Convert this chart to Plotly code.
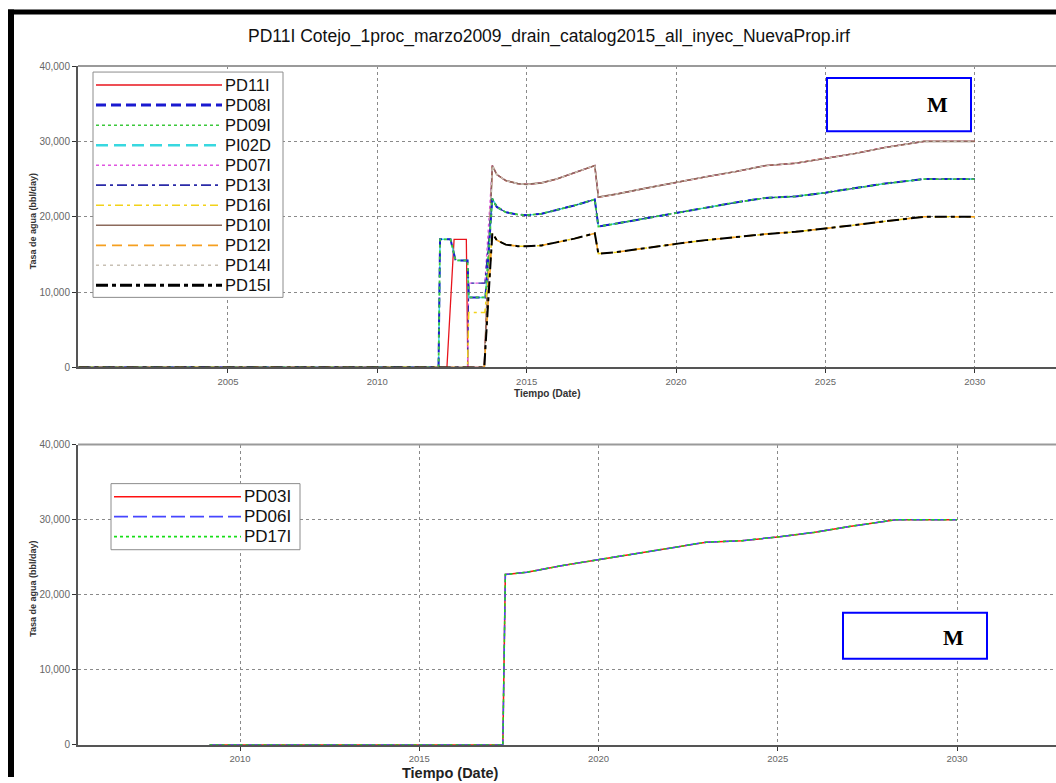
import plotly.graph_objects as go

W, H = 1056, 783

# ---------------- data: top panel ----------------
top_names = ["PD11I", "PD08I", "PD09I", "PI02D", "PD07I", "PD13I", "PD16I",
             "PD10I", "PD12I", "PD14I", "PD15I"]
top_colors = ["#e8141c", "#1a1ad0", "#3cc83c", "#38d8e0", "#e055e0", "#2a2aa8",
              "#f2d21a", "#8c6a5c", "#f5a020", "#c8c0b4", "#000000"]
top_dashes = ["solid", "10px,5px", "3px,3px", "12px,6px", "3px,3px",
              "10px,4px,3px,4px", "8px,4px,3px,4px", "solid", "10px,6px",
              "3px,4px", "12px,4px,4px,4px"]
top_leg_widths = [1.5, 3, 1.5, 2.5, 1.5, 1.8, 1.5, 1.5, 1.8, 1.5, 3]
top_line_widths = [1.3, 2, 1.8, 1.5, 1.3, 1.2, 1.5, 1.6, 1.5, 1.6, 2]
top_group = ["A", "B", "B", "B", "A", "B", "C", "A", "C", "A", "C"]
top_early = ["red", "ramp", "ramp", "ramp", "step_mid", "step_mid", "step_low",
             "zero", "zero", "zero", "zero"]
draw_order = [0, 4, 7, 9, 3, 5, 1, 2, 6, 8, 10]

# early (pre-2013.6) behaviour, decimal years / bbl/day
red_x = [2000.0, 2012.33, 2012.57, 2012.98, 2013.03, 2013.58]
red_y = [0, 0, 17000, 17000, 0, 0]
ramp_x = [2000.0, 2012.05, 2012.10, 2012.45, 2012.62, 2013.02, 2013.06, 2013.62]
ramp_y = [0, 0, 17000, 17000, 14200, 14200, 9300, 9300]
step_mid_x = [2000.0, 2013.02, 2013.06, 2013.60]
step_mid_y = [0, 0, 11200, 11200]
step_low_x = [2000.0, 2013.02, 2013.06, 2013.60]
step_low_y = [0, 0, 7300, 7300]
zero_x = [2000.0, 2013.58]
zero_y = [0, 0]

# later profiles for the three groups of wells
prof_t = [2013.85, 2014.0, 2014.3, 2014.7, 2015.0, 2015.5, 2016.0, 2016.6,
          2017.28, 2017.40, 2018.0, 2019.0, 2020.0, 2021.0, 2022.0, 2023.0,
          2024.0, 2025.0, 2026.0, 2027.0, 2028.3, 2030.0]
grp_a = [26800, 25600, 24800, 24400, 24300, 24500, 25000, 25800, 26800, 22600,
         23000, 23800, 24500, 25300, 26000, 26800, 27100, 27700, 28400, 29200,
         30000, 30000]
grp_b = [22400, 21300, 20600, 20300, 20200, 20400, 20900, 21500, 22300, 18700,
         19100, 19800, 20500, 21200, 21900, 22500, 22700, 23200, 23800, 24400,
         25000, 25000]
grp_c = [17800, 16900, 16300, 16100, 16100, 16200, 16600, 17100, 17800, 15100,
         15300, 15900, 16400, 16900, 17300, 17700, 18000, 18400, 18900, 19400,
         20000, 20000]

# ---------------- data: bottom panel ----------------
bot_names = ["PD03I", "PD06I", "PD17I"]
bot_colors = ["#ff1010", "#4646ff", "#18dd18"]
bot_dashes = ["solid", "14px,5px", "3px,3px"]
bot_widths = [1.5, 1.8, 1.8]
bot_t = [2009.15, 2017.33, 2017.40, 2018.0, 2019.0, 2020.0, 2021.0, 2022.0,
         2023.0, 2024.0, 2025.0, 2026.0, 2027.0, 2028.3, 2030.0]
bot_rate = [0, 0, 22700, 23000, 23900, 24700, 25500, 26300, 27000, 27200,
            27700, 28300, 29100, 30000, 30000]

x_ticks = [2005, 2010, 2015, 2020, 2025, 2030]
y_ticks = [0, 10000, 20000, 30000, 40000]

early_map = {"red": (red_x, red_y), "ramp": (ramp_x, ramp_y),
             "step_mid": (step_mid_x, step_mid_y),
             "step_low": (step_low_x, step_low_y), "zero": (zero_x, zero_y)}
group_map = {"A": grp_a, "B": grp_b, "C": grp_c}

# the photographed page maps figure y to picture y as ~0.9846*y + 5;
# positions below are given in picture pixels and converted back.
V_SCALE, V_OFF = 0.9846, 5.03


def px(x):
    return x / W


def py(y):
    return 1 - ((y - V_OFF) / V_SCALE) / H


fig = go.Figure()

for i in draw_order:
    name = top_names[i]
    ex, ey = early_map[top_early[i]]
    fig.add_trace(go.Scatter(
        x=ex + prof_t, y=ey + group_map[top_group[i]], mode="lines", name=name,
        line=dict(color=top_colors[i], dash=top_dashes[i], width=top_line_widths[i]),
        xaxis="x", yaxis="y", showlegend=False))

for i, name in enumerate(bot_names):
    fig.add_trace(go.Scatter(
        x=bot_t, y=bot_rate, mode="lines", name=name,
        line=dict(color=bot_colors[i], dash=bot_dashes[i], width=1.5),
        xaxis="x2", yaxis="y2", showlegend=False))

axis_common = dict(showline=True, linecolor="#555", linewidth=2, ticks="outside",
                   ticklen=4, tickcolor="#333", showgrid=True, gridcolor="#8a8a8a",
                   griddash="dot", gridwidth=1, zeroline=False,
                   tickfont=dict(family="Liberation Sans", size=9.5, color="#666"))

fig.update_layout(
    width=W, height=H, margin=dict(l=0, r=0, t=0, b=0), autosize=False,
    paper_bgcolor="white", plot_bgcolor="white", showlegend=False,
    xaxis=dict(domain=[px(78), 1.0], range=[1999.98, 2032.72], anchor="y",
               tickvals=x_ticks, ticktext=[str(v) for v in x_ticks], **axis_common),
    yaxis=dict(domain=[py(367), py(66)], range=[0, 40000], anchor="x",
               tickvals=y_ticks, tickformat=",", **axis_common),
    xaxis2=dict(domain=[px(78), 1.0], range=[2005.48, 2032.76], anchor="y2",
                tickvals=x_ticks, ticktext=[str(v) for v in x_ticks], **axis_common),
    yaxis2=dict(domain=[py(744), py(444)], range=[0, 40000], anchor="x2",
                tickvals=y_ticks, tickformat=",", **axis_common),
)
fig.update_yaxes(tickfont=dict(size=10))

shapes = []
annotations = []


def note(text, x, y, size, family="Liberation Sans", color="#111", xanchor="center",
         angle=0):
    annotations.append(dict(text=text, x=px(x), y=py(y), xref="paper", yref="paper",
                            showarrow=False, xanchor=xanchor, yanchor="middle",
                            textangle=angle,
                            font=dict(family=family, size=size, color=color)))


# outer black frame
shapes.append(dict(type="line", xref="paper", yref="paper", x0=px(8), x1=1.0,
                   y0=py(12), y1=py(12), line=dict(color="black", width=5)))
shapes.append(dict(type="line", xref="paper", yref="paper", x0=px(11), x1=px(11),
                   y0=py(9.5), y1=0, line=dict(color="black", width=6)))
# grey top borders of the plot areas
for ytop in (66, 444):
    shapes.append(dict(type="line", xref="paper", yref="paper", x0=px(78), x1=1.0,
                       y0=py(ytop), y1=py(ytop), line=dict(color="#9a9a9a", width=2)))

# title and axis titles
note("PD11I Cotejo_1proc_marzo2009_drain_catalog2015_all_inyec_NuevaProp.irf",
     549, 36, 17.5)
note("<b>Tiempo (Date)</b>", 547, 393, 10, color="#333")
note("<b>Tiempo (Date)</b>", 450, 772, 14.5, color="#222")
for yc in (221, 588):
    note("<b>Tasa de agua (bbl/day)</b>", 33, yc, 9, color="#333", angle=-90)

# M boxes
for (bx0, by0, bx1, by1, mx, my) in ((827, 78, 971, 131, 937, 104),
                                     (843, 612, 987, 658, 953, 637)):
    shapes.append(dict(type="rect", xref="paper", yref="paper", x0=px(bx0), x1=px(bx1),
                       y0=py(by1), y1=py(by0), line=dict(color="#0000ff", width=2),
                       fillcolor="white"))
    note("<b>M</b>", mx, my, 22, family="Liberation Serif", color="black")


def legend_box(names, colors, dashes, widths, box, row0, step, lx0, lx1, tx, fsize):
    shapes.append(dict(type="rect", xref="paper", yref="paper", x0=px(box[0]),
                       x1=px(box[2]), y0=py(box[3]), y1=py(box[1]),
                       line=dict(color="#8c8c8c", width=1), fillcolor="white"))
    for k, nm in enumerate(names):
        yy = row0 + k * step
        shapes.append(dict(type="line", xref="paper", yref="paper", x0=px(lx0), x1=px(lx1),
                           y0=py(yy), y1=py(yy),
                           line=dict(color=colors[k], dash=dashes[k], width=widths[k])))
        note(nm, tx, yy, fsize, xanchor="left")


legend_box(top_names, top_colors, top_dashes, top_leg_widths,
           (93, 72, 283, 297), 85, 20, 96, 222, 223, 16.5)
legend_box(bot_names, bot_colors, bot_dashes, bot_widths,
           (111, 483, 300, 549), 496, 20, 114, 241, 242, 17)

fig.update_layout(shapes=shapes, annotations=annotations)
fig.write_html(
    "out.html",
    config={"displayModeBar": False, "responsive": False},
    post_script=("document.documentElement.style.margin='0';"
                 "document.body.style.margin='0';document.body.style.padding='0';"
                 "document.documentElement.style.overflow='hidden';"
                 "document.body.style.overflow='hidden';"),
)
